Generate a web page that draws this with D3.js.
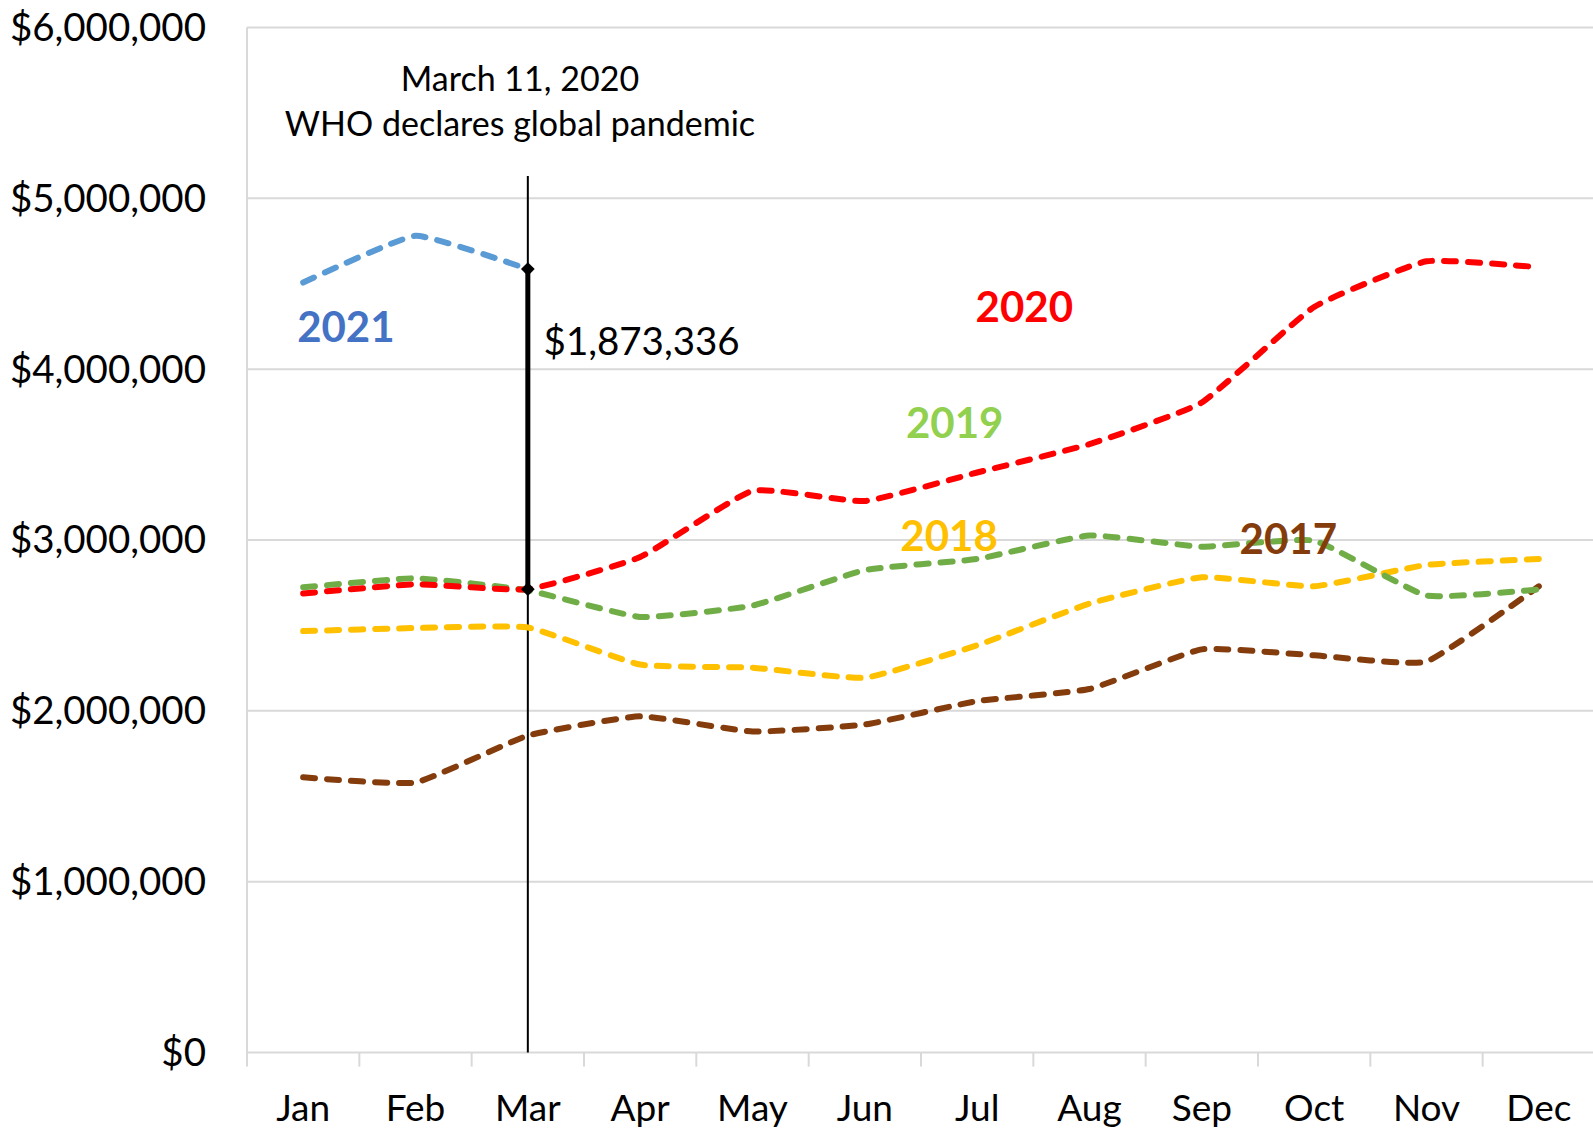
<!DOCTYPE html>
<html>
<head>
<meta charset="utf-8">
<script src="https://d3js.org/d3.v7.min.js"></script>
<style>
  body { margin: 0; background: #fff; }
  text { font-family: Lato, "Open Sans", sans-serif; }
</style>
</head>
<body>
<script>
  // months and tick values
  var months = ["Jan","Feb","Mar","Apr","May","Jun","Jul","Aug","Sep","Oct","Nov","Dec"];
  var yTicks = [0, 1000000, 2000000, 3000000, 4000000, 5000000, 6000000];

  // monthly totals per year
  var y2017 = [1611000, 1581000, 1855000, 1968000, 1879000, 1920000, 2057000, 2128000, 2360000, 2325000, 2289000, 2729000];
  var y2018 = [2467000, 2485000, 2488000, 2271000, 2253000, 2194000, 2384000, 2628000, 2782000, 2729000, 2854000, 2889000];
  var y2019 = [2723000, 2776000, 2705000, 2550000, 2616000, 2824000, 2889000, 3026000, 2961000, 2996000, 2675000, 2711000];
  var y2020 = [2687000, 2741000, 2712000, 2900000, 3288000, 3228000, 3395000, 3561000, 3805000, 4364000, 4631000, 4596000];
  var y2021 = [4507000, 4780000, 4585336];

  var series = [
    { name: "2017", values: y2017, line: "#843c0c", label: "#843c0c" },
    { name: "2018", values: y2018, line: "#ffc000", label: "#ffc000" },
    { name: "2019", values: y2019, line: "#70ad47", label: "#92d050" },
    { name: "2020", values: y2020, line: "#ff0000", label: "#ff0000" },
    { name: "2021", values: y2021, line: "#5b9bd5", label: "#4472c4" }
  ];

  // year label anchors: month index + value
  var labelAt = { "2021": [0.38, 4246000], "2020": [6.42, 4363000], "2019": [5.80, 3684000],
                  "2018": [5.75, 3023000], "2017": [8.77, 3005000] };

  var W = 1593, H = 1130;
  var mLeft = 247, mRight = 1595, mTop = 27.4, mBottom = 1052.6;

  var svg = d3.select("body").append("svg").attr("width", W).attr("height", H);

  var x = d3.scaleBand().domain(months).range([mLeft, mRight]);
  var xi = d3.scaleLinear().domain([0, 11]).range([x("Jan") + x.bandwidth()/2, x("Dec") + x.bandwidth()/2]);
  var y = d3.scaleLinear().domain([0, 6000000]).range([mBottom, mTop]);

  // gridlines
  svg.selectAll(".grid").data(yTicks).enter().append("line")
    .attr("x1", mLeft).attr("x2", W)
    .attr("y1", d => y(d)).attr("y2", d => y(d))
    .attr("stroke", "#d9d9d9").attr("stroke-width", 2);

  // y axis line
  svg.append("line").attr("x1", mLeft).attr("x2", mLeft).attr("y1", mTop).attr("y2", mBottom + 14)
    .attr("stroke", "#d9d9d9").attr("stroke-width", 2);

  // x ticks at band edges
  svg.selectAll(".xt").data(months.slice(1)).enter().append("line")
    .attr("x1", d => x(d)).attr("x2", d => x(d))
    .attr("y1", mBottom).attr("y2", mBottom + 14)
    .attr("stroke", "#d9d9d9").attr("stroke-width", 2);

  // y labels
  var fmt = d3.format("$,");
  svg.selectAll(".yl").data(yTicks).enter().append("text")
    .attr("x", 206).attr("y", d => y(d)).attr("dy", "0.35em")
    .attr("text-anchor", "end").attr("font-size", 38.5).attr("fill", "#000")
    .text(d => fmt(d));

  // x labels
  svg.selectAll(".xl").data(months).enter().append("text")
    .attr("x", d => x(d) + x.bandwidth()/2).attr("y", 1121)
    .attr("text-anchor", "middle").attr("font-size", 37).attr("fill", "#000")
    .text(d => d);

  // pandemic marker line through March
  var xm = xi(2);
  svg.append("line").attr("x1", xm).attr("x2", xm).attr("y1", y(5130000)).attr("y2", mBottom)
    .attr("stroke", "#000").attr("stroke-width", 2);

  // series lines
  var gen = d3.line().x((d, i) => xi(i)).y(d => y(d)).curve(d3.curveCardinal.tension(0.6));
  svg.selectAll(".series").data(series).enter().append("path")
    .attr("d", d => gen(d.values))
    .attr("fill", "none").attr("stroke", d => d.line)
    .attr("stroke-width", 6).attr("stroke-linecap", "round")
    .attr("stroke-dasharray", "12,12");

  // difference bar between Mar 2020 and Mar 2021
  svg.append("line").attr("x1", xm).attr("x2", xm).attr("y1", y(y2020[2])).attr("y2", y(y2021[2]))
    .attr("stroke", "#000").attr("stroke-width", 5);
  svg.selectAll(".dia").data([y2020[2], y2021[2]]).enter().append("path")
    .attr("d", d3.symbol().type(d3.symbolDiamond2).size(120))
    .attr("transform", d => "translate(" + xm + "," + y(d) + ")")
    .attr("fill", "#000");

  svg.append("text").attr("x", xi(2.14)).attr("y", y(4164000)).attr("dy", "0.35em")
    .attr("font-size", 38.5).attr("fill", "#000")
    .text(fmt(y2021[2] - y2020[2]));

  // annotation
  svg.append("text").attr("x", xi(1.93)).attr("y", y(5697000)).attr("dy", "0.35em")
    .attr("text-anchor", "middle").attr("font-size", 34).text("March 11, 2020");
  svg.append("text").attr("x", xi(1.93)).attr("y", y(5434000)).attr("dy", "0.35em")
    .attr("text-anchor", "middle").attr("font-size", 34).text("WHO declares global pandemic");

  // year labels
  svg.selectAll(".yr").data(series).enter().append("text")
    .attr("x", d => xi(labelAt[d.name][0])).attr("y", d => y(labelAt[d.name][1])).attr("dy", "0.35em")
    .attr("text-anchor", "middle").attr("font-size", 42).attr("font-weight", "bold")
    .attr("fill", d => d.label)
    .text(d => d.name);
</script>
</body>
</html>
